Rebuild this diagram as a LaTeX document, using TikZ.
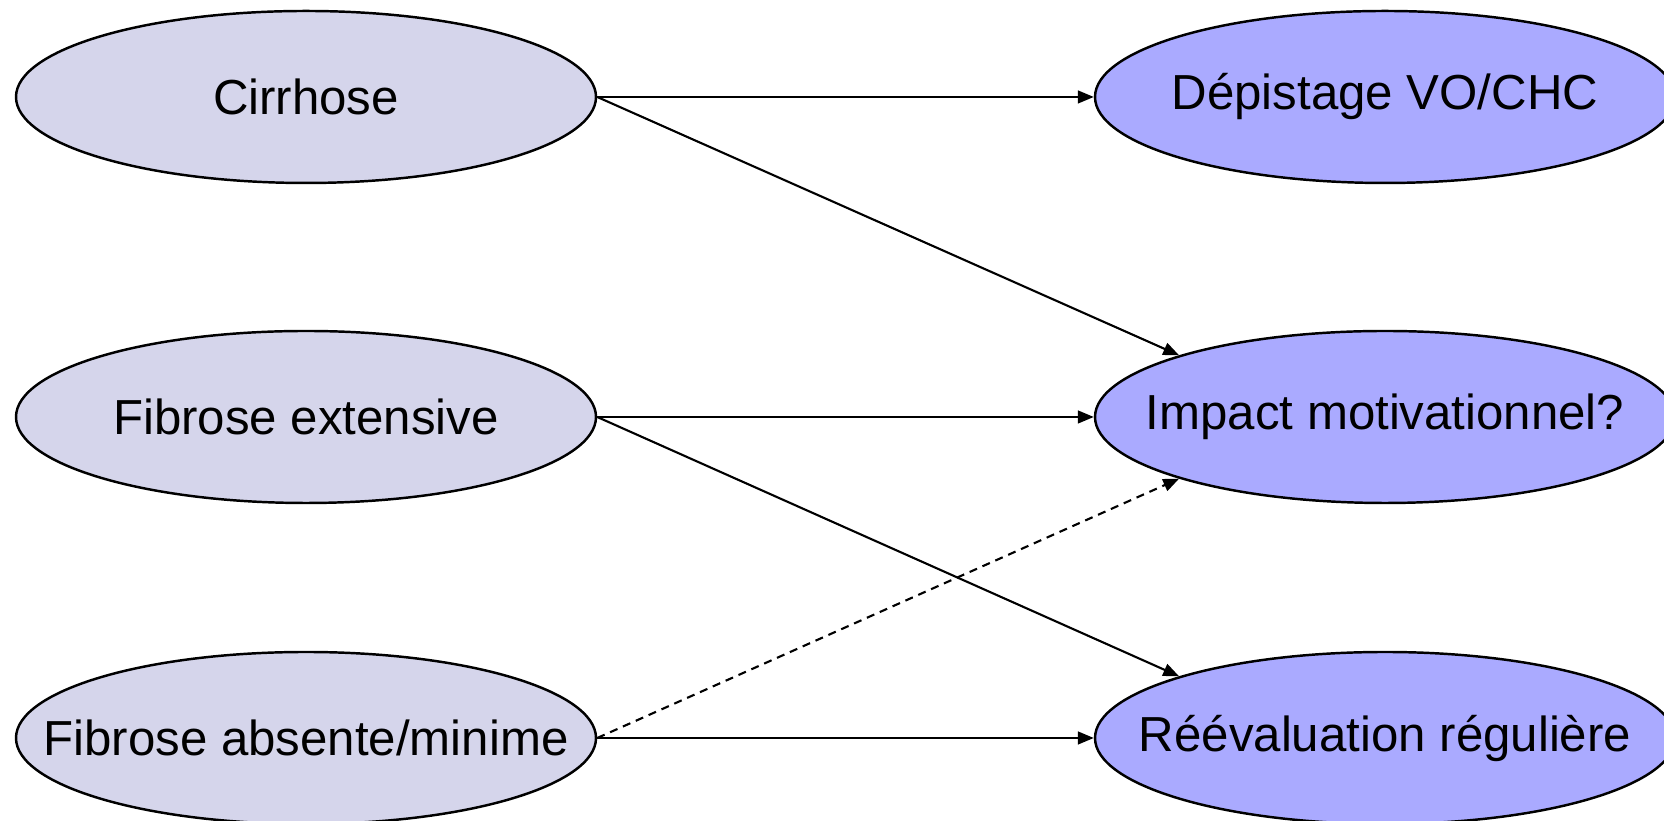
\documentclass[tikz,border=0pt]{standalone}
\usepackage{fontspec}
\setmainfont{Liberation Sans}
\usetikzlibrary{arrows.meta}
\usetikzlibrary{shapes,positioning}

\definecolor{stagefill}{RGB}{213,213,235}
\definecolor{actionfill}{RGB}{170,170,255}

\begin{document}
\begin{tikzpicture}
            \tikzstyle{arrow} = [semithick,->,>={Triangle[length=4.5pt,width=3.6pt]}]
            \tikzstyle{stage} = [ellipse, draw, line width=0.7pt, fill=stagefill, minimum width=5.8cm, minimum height=1.72cm, inner xsep=-2cm, inner ysep=0pt, font=\fontsize{14}{17}\selectfont]
            \tikzstyle{action} = [stage, fill=actionfill]

            \useasboundingbox (0, 0) rectangle (16.64, 8.21);

            \node[stage] (cirrhose) at (3.06, 7.24) {Cirrhose};
            \node[stage] (extensive) at (3.06, 4.04) {Fibrose extensive};
            \node[stage] (minime) at (3.06, 0.83) {Fibrose absente/minime};

            \node[action] (depistage) at (13.85, 7.24) {Dépistage VO/CHC};
            \node[action] (impact) at (13.85, 4.04) {Impact motivationnel?};
            \node[action] (reeval) at (13.85, 0.83) {Réévaluation régulière};

            \draw [arrow] (cirrhose.east) -- (depistage.west);
            \draw [arrow] (cirrhose.east) -- (impact.north west);
            \draw [arrow] (extensive.east) -- (impact.west);
            \draw [arrow] (extensive.east) -- (reeval.north west);
            \draw [arrow] (minime.east) -- (reeval.west);
            \draw [arrow, dash pattern=on 2.3pt off 1.7pt] (minime.east) -- (impact.south west);
        \end{tikzpicture}
\end{document}
